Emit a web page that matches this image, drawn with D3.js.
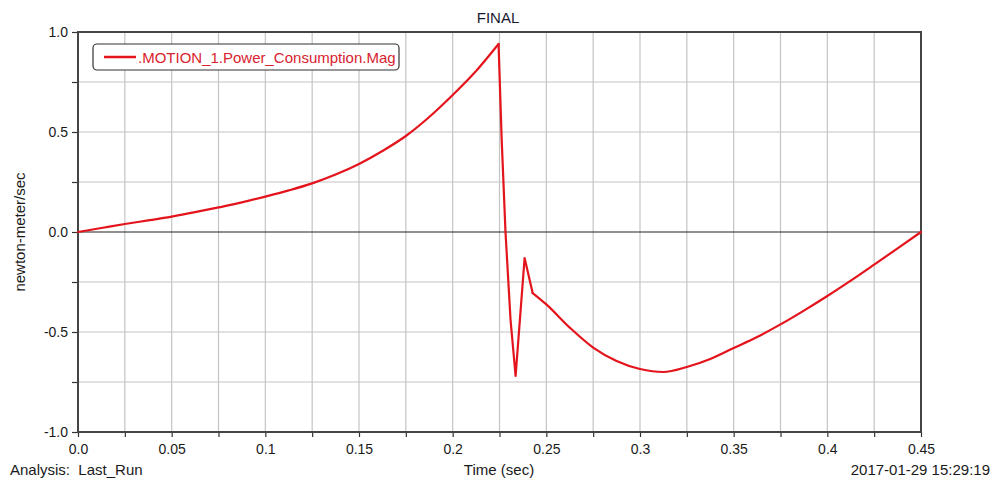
<!DOCTYPE html>
<html>
<head>
<meta charset="utf-8">
<script src="https://cdn.jsdelivr.net/npm/d3@7"></script>
<style>
  body { margin: 0; background: #fff; }
  text { font-family: "Liberation Sans", Arial, sans-serif; }
</style>
</head>
<body>
<script>
  // time (sec) and power consumption values
  var times = [0, 0.0125, 0.025, 0.0375, 0.05, 0.0625, 0.075, 0.0875, 0.1, 0.1125,
    0.125, 0.1375, 0.15, 0.1625, 0.175, 0.1875, 0.2, 0.2125, 0.2245,
    0.2261, 0.2282, 0.2309, 0.2336, 0.2384, 0.2427,
    0.25, 0.2625, 0.275, 0.2875, 0.3, 0.3125, 0.325, 0.3375, 0.35, 0.3625,
    0.375, 0.3875, 0.4, 0.4125, 0.425, 0.4375, 0.45];
  var power = [0, 0.02, 0.04, 0.058, 0.077, 0.099, 0.123, 0.148, 0.177, 0.208,
    0.243, 0.287, 0.34, 0.405, 0.48, 0.575, 0.685, 0.805, 0.94,
    0.477, 0.0, -0.44, -0.72, -0.13, -0.305,
    -0.362, -0.478, -0.578, -0.645, -0.685, -0.70, -0.675, -0.635, -0.58, -0.525,
    -0.462, -0.393, -0.32, -0.243, -0.163, -0.082, 0];

  // the sharp spike runs between these two times, the rest is smooth
  var spikeStart = 0.2245, spikeEnd = 0.2427;

  var xTicks = [0, 0.05, 0.1, 0.15, 0.2, 0.25, 0.3, 0.35, 0.4, 0.45];
  var xTickLabels = ['0.0', '0.05', '0.1', '0.15', '0.2', '0.25', '0.3', '0.35', '0.4', '0.45'];
  var yTicks = [-1, -0.5, 0, 0.5, 1];
  var yTickLabels = ['-1.0', '-0.5', '0.0', '0.5', '1.0'];

(function() {
  'use strict';

  var w = 994, h = 481;
  var mLeft = 78, mRight = 921, mTop = 32, mBottom = 432;
  var ink = '#1a1a1a';
  var red = '#e4141c';

  var x = d3.scaleLinear().domain([0, 0.45]).range([mLeft, mRight]);
  var y = d3.scaleLinear().domain([-1, 1]).range([mBottom, mTop]);

  var svg = d3.select('body').append('svg')
    .attr('width', w)
    .attr('height', h);

  // grid every 0.025 sec and 0.25 units
  var xGrid = d3.range(1, 18).map(function(i) { return i * 0.025; });
  var yGrid = d3.range(-3, 4).map(function(i) { return i * 0.25; });

  svg.append('g').selectAll('line')
    .data(xGrid)
    .enter().append('line')
    .attr('x1', function(d) { return x(d); })
    .attr('x2', function(d) { return x(d); })
    .attr('y1', mTop).attr('y2', mBottom)
    .attr('stroke', '#c4c4c4').attr('stroke-width', 1.2);

  svg.append('g').selectAll('line')
    .data(yGrid)
    .enter().append('line')
    .attr('x1', mLeft).attr('x2', mRight)
    .attr('y1', function(d) { return y(d); })
    .attr('y2', function(d) { return y(d); })
    .attr('stroke', function(d) { return Math.abs(d) < 1e-9 ? '#222' : '#c4c4c4'; })
    .attr('stroke-width', 1.2);

  // axes
  var xAxis = d3.axisBottom(x)
    .tickValues(d3.range(0, 19).map(function(i) { return i * 0.025; }))
    .tickSize(5)
    .tickFormat(function(d) {
      var i = xTicks.findIndex(function(t) { return Math.abs(t - d) < 1e-9; });
      return i < 0 ? '' : xTickLabels[i];
    });
  var gx = svg.append('g')
    .attr('transform', 'translate(0,' + mBottom + ')')
    .call(xAxis);

  var yAxis = d3.axisLeft(y)
    .tickValues(d3.range(-4, 5).map(function(i) { return i * 0.25; }))
    .tickSize(6)
    .tickFormat(function(d) {
      var i = yTicks.findIndex(function(t) { return Math.abs(t - d) < 1e-9; });
      return i < 0 ? '' : yTickLabels[i];
    });
  var gy = svg.append('g')
    .attr('transform', 'translate(' + mLeft + ',0)')
    .call(yAxis);

  [gx, gy].forEach(function(g) {
    g.select('.domain').remove();
    g.selectAll('line').attr('stroke', '#333').attr('stroke-width', 1.2);
    g.selectAll('text').attr('font-size', '14px').attr('fill', ink)
      .attr('font-family', '"Liberation Sans", Arial, sans-serif');
  });
  gx.selectAll('text').attr('dy', '1.0em');
  gy.selectAll('text').attr('dx', '-1px');

  // frame
  svg.append('rect')
    .attr('x', mLeft).attr('y', mTop)
    .attr('width', mRight - mLeft).attr('height', mBottom - mTop)
    .attr('fill', 'none')
    .attr('stroke', '#444')
    .attr('stroke-width', 2);

  // data line: smooth parts with a monotone curve, spike with straight segments
  var pts = times.map(function(t, i) { return [t, power[i]]; });
  var rise = pts.filter(function(d) { return d[0] <= spikeStart; });
  var spike = pts.filter(function(d) { return d[0] >= spikeStart && d[0] <= spikeEnd; });
  var fall = pts.filter(function(d) { return d[0] >= spikeEnd; });

  var smooth = d3.line()
    .curve(d3.curveMonotoneX)
    .x(function(d) { return x(d[0]); })
    .y(function(d) { return y(d[1]); });
  var straight = d3.line()
    .x(function(d) { return x(d[0]); })
    .y(function(d) { return y(d[1]); });

  [[rise, smooth], [spike, straight], [fall, smooth]].forEach(function(p) {
    svg.append('path')
      .datum(p[0])
      .attr('d', p[1])
      .attr('fill', 'none')
      .attr('stroke', red)
      .attr('stroke-width', 2.2)
      .attr('stroke-linejoin', 'round')
      .attr('stroke-linecap', 'round');
  });

  // legend
  svg.append('rect')
    .attr('x', 93).attr('y', 44)
    .attr('width', 306).attr('height', 26)
    .attr('rx', 4)
    .attr('fill', '#fff')
    .attr('stroke', '#333')
    .attr('stroke-width', 1.2);
  svg.append('line')
    .attr('x1', 104).attr('x2', 136)
    .attr('y1', 57).attr('y2', 57)
    .attr('stroke', red).attr('stroke-width', 2.5);
  svg.append('text')
    .attr('x', 138).attr('y', 62.5)
    .attr('font-size', '15px')
    .attr('fill', '#d8222e')
    .text('.MOTION_1.Power_Consumption.Mag');

  // titles
  svg.append('text')
    .attr('x', 498).attr('y', 23)
    .attr('text-anchor', 'middle')
    .attr('font-size', '15px')
    .attr('fill', '#1a1a2e')
    .text('FINAL');

  svg.append('text')
    .attr('transform', 'translate(25,' + y(0) + ') rotate(-90)')
    .attr('text-anchor', 'middle')
    .attr('font-size', '15px')
    .attr('fill', ink)
    .text('newton-meter/sec');

  svg.append('text')
    .attr('x', 499).attr('y', 475)
    .attr('text-anchor', 'middle')
    .attr('font-size', '15px')
    .attr('fill', ink)
    .text('Time (sec)');

  svg.append('text')
    .attr('x', 10).attr('y', 475)
    .attr('font-size', '15px')
    .attr('fill', ink)
    .style('white-space', 'pre')
    .text('Analysis:  Last_Run');

  svg.append('text')
    .attr('x', 990).attr('y', 475)
    .attr('text-anchor', 'end')
    .attr('font-size', '15px')
    .attr('fill', ink)
    .text('2017-01-29 15:29:19');
})();
</script>
</body>
</html>
